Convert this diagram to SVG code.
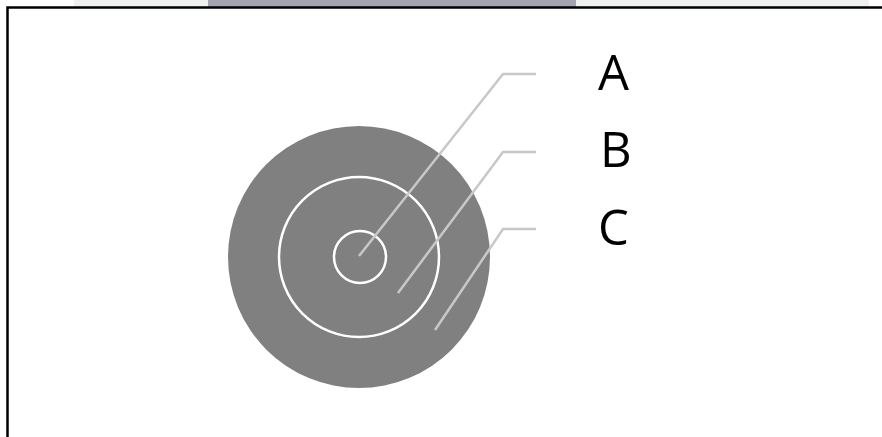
<svg xmlns="http://www.w3.org/2000/svg" width="882" height="437" viewBox="0 0 882 437">
<style>
.lead{fill:none;stroke:#c8c8c8;stroke-width:2.5}
.ring{fill:none;stroke:#ffffff;stroke-width:2.5}
.lbl{font-family:"Open Sans","Liberation Sans",sans-serif;font-size:49px;fill:#000}
</style>
<rect width="882" height="437" fill="#ffffff"/>
<g id="topbar">
<rect x="74" y="0" width="795" height="7" fill="#eef0f2"/>
<rect x="208" y="0" width="368" height="7" fill="#a2a4b0"/>
</g>
<g id="frame">
<path d="M7.5 437 V7.5 H882" fill="none" stroke="#000" stroke-width="2.5"/>
</g>
<g id="target">
<circle cx="359" cy="257" r="131" fill="#808080"/>
<circle class="ring" cx="359" cy="257" r="80"/>
<circle class="ring" cx="360" cy="257" r="26"/>
</g>
<g id="connectors">
<polyline class="lead" points="359,256 503,74 536,74"/>
<polyline class="lead" points="398,293 503,152 536,152"/>
<polyline class="lead" points="435,330 503,229 536,229"/>
</g>
<g id="labelA"><text class="lbl" x="598" y="90">A</text></g>
<g id="labelB"><text class="lbl" x="600" y="167">B</text></g>
<g id="labelC"><text class="lbl" x="598" y="245">C</text></g>
</svg>
